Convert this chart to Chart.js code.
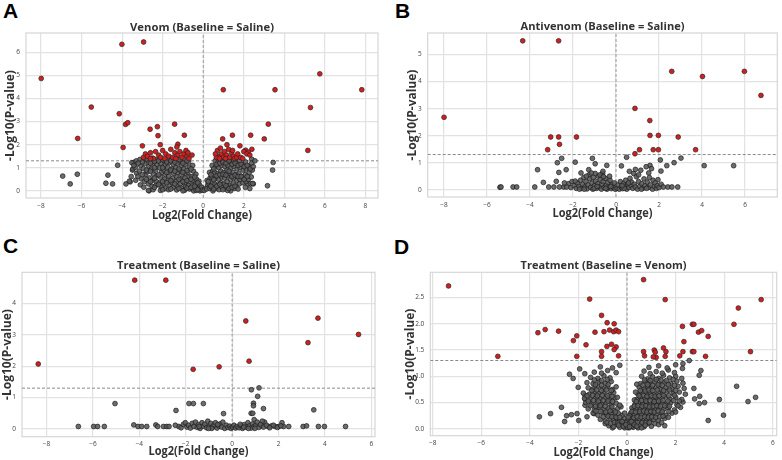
<!DOCTYPE html>
<html>
<head>
<meta charset="utf-8">
<script src="https://cdn.jsdelivr.net/npm/chart.js@4.4.1/dist/chart.umd.min.js"></script>
<style>
  body { margin: 0; background: #fff; width: 782px; height: 460px; position: relative; overflow: hidden; }
  .panel { position: absolute; }
  .tag { position: absolute; font: bold 21px "Liberation Sans", Arial, sans-serif; line-height: 21px; color: #000; }
</style>
</head>
<body>
<div class="tag" style="left:3px;top:0px">A</div>
<div class="tag" style="left:395px;top:0px">B</div>
<div class="tag" style="left:3px;top:235px">C</div>
<div class="tag" style="left:394px;top:236px">D</div>

<div class="panel" style="left:0;top:0;width:391px;height:224px"><canvas id="chartA"></canvas></div>
<div class="panel" style="left:391px;top:0;width:391px;height:224px"><canvas id="chartB"></canvas></div>
<div class="panel" style="left:0;top:230px;width:391px;height:230px"><canvas id="chartC"></canvas></div>
<div class="panel" style="left:391px;top:230px;width:391px;height:230px"><canvas id="chartD"></canvas></div>

<script>
// ---- data: [log2 fold change, -log10 p] ----
const sigCut = 1.301; // -log10(0.05)

// A: Venom (Baseline = Saline)
const aSig = [[-7.99,4.87],[-4.01,6.35],[-2.94,6.45],[-5.52,3.63],[-6.19,2.27],[-4.14,3.34],[-3.83,2.88],[-3.72,2.95],
  [-3.95,1.88],[-2.62,2.67],[-2.26,2.78],[-2.23,2.39],[-1.41,2.89],[-0.93,2.41],[-3.0,1.95],[-2.12,2.0],[-1.25,2.02],
  [0.99,4.38],[3.54,4.38],[5.75,5.07],[7.82,4.38],[5.29,3.61],[3.21,2.89],[3.01,2.25],[2.34,2.41],[1.44,2.41],
  [0.96,2.25],[5.16,1.75],[1.17,2.0],[1.81,1.95],[2.4,1.8],[2.09,1.76],[2.22,1.68],
  [-2.95,1.45],[-2.85,1.6],[-2.75,1.5],[-2.6,1.65],[-2.45,1.4],[-2.35,1.7],[-2.2,1.55],[-2.1,1.45],[-2.0,1.75],
  [-1.85,1.6],[-1.7,1.5],[-1.6,1.8],[-1.5,1.45],[-1.4,1.65],[-1.3,1.9],[-1.25,1.55],[-1.15,1.7],[-1.05,1.45],
  [-0.95,1.6],[-0.85,1.75],[-0.8,1.5],[-0.75,1.65],[-1.9,1.4],[-2.6,1.4],[-0.55,1.55],[-1.35,1.4],[-0.7,1.4],
  [0.7,1.75],[0.75,1.5],[0.85,1.85],[0.9,1.6],[1.0,1.45],[1.05,1.7],[1.15,1.55],[1.25,1.8],[1.3,1.45],[1.4,1.65],
  [1.5,1.5],[1.55,1.4],[1.65,1.45],[1.7,1.6],[0.65,1.45],[1.1,1.4],[1.45,1.75],[1.85,1.45],[2.0,1.7],[2.15,1.6],
  [2.3,1.55],[1.95,1.4],[0.6,1.6],[0.8,1.4]];
const aNs = [[-6.93,0.64],[-6.56,0.30],[-6.21,0.72],[-4.8,0.33],[-4.7,0.68],[-4.47,0.30],[-4.22,1.11],[-3.81,0.30],
  [-3.6,0.39],[-2.67,0.0],[3.17,0.22],[3.42,0.9],[3.45,1.23],[2.3,0.1],[2.19,0.3],[2.47,0.3],[1.35,0.0],
  [-3.44,1.23],[-3.49,0.9],[-3.64,0.42],[-2.7,0.02],[2.34,0.32],[2.44,0.32],[2.39,1.37],
  [-3.52,1.22],[-3.47,0.95],[-3.55,0.62],[-3.3,1.3],[-3.35,1.02],[-3.28,0.76],[-3.33,0.46],
  [-3.12,1.36],[-3.08,1.1],[-3.15,0.86],[-3.05,0.52],[-3.1,0.26],
  [-2.92,1.4],[-2.88,1.18],[-2.95,0.96],[-2.86,0.7],[-2.9,0.41],[-2.93,0.16],
  [-2.72,1.3],[-2.68,1.06],[-2.75,0.82],[-2.66,0.56],[-2.7,0.3],
  [-2.52,1.42],[-2.48,1.2],[-2.55,0.95],[-2.46,0.72],[-2.5,0.46],[-2.53,0.2],[-2.47,0.05],
  [-2.32,1.35],[-2.28,1.12],[-2.35,0.9],[-2.27,0.66],[-2.3,0.4],[-2.33,0.24],
  [-2.12,1.4],[-2.08,1.2],[-2.15,1.0],[-2.06,0.8],[-2.1,0.6],[-2.13,0.36],[-2.07,0.15],[-2.11,0.02],
  [-1.92,1.3],[-1.88,1.1],[-1.95,0.9],[-1.86,0.7],[-1.9,0.5],[-1.93,0.3],[-1.87,0.1],
  [-1.72,1.4],[-1.68,1.22],[-1.75,1.02],[-1.66,0.85],[-1.7,0.64],[-1.73,0.45],[-1.67,0.25],[-1.71,0.05],
  [-1.52,1.35],[-1.48,1.15],[-1.55,0.95],[-1.46,0.76],[-1.5,0.55],[-1.53,0.35],[-1.47,0.15],
  [-1.32,1.4],[-1.28,1.2],[-1.35,1.0],[-1.26,0.8],[-1.3,0.6],[-1.33,0.4],[-1.27,0.2],[-1.31,0.04],
  [-1.12,1.3],[-1.08,1.1],[-1.15,0.9],[-1.06,0.7],[-1.1,0.5],[-1.13,0.3],[-1.07,0.12],
  [-0.92,1.38],[-0.88,1.15],[-0.95,0.95],[-0.86,0.75],[-0.9,0.55],[-0.93,0.35],[-0.87,0.18],[-0.91,0.03],
  [-0.72,1.25],[-0.68,1.02],[-0.75,0.8],[-0.66,0.6],[-0.7,0.4],[-0.73,0.22],[-0.67,0.08],
  [-0.52,1.1],[-0.48,0.85],[-0.55,0.62],[-0.46,0.4],[-0.5,0.25],[-0.53,0.1],[-0.47,0.0],
  [-0.36,0.72],[-0.33,0.5],[-0.38,0.3],[-0.31,0.15],[-0.35,0.02],
  [-0.21,0.42],[-0.18,0.25],[-0.23,0.1],[-0.16,0.0],[-0.08,0.16],[-0.05,0.03],
  [-3.42,1.1],[-3.2,1.2],[-3.22,0.62],[-3.0,1.25],[-3.0,0.7],[-2.8,1.38],[-2.8,0.9],[-2.8,0.5],[-2.6,1.2],
  [-2.6,0.85],[-2.6,0.4],[-2.4,1.28],[-2.4,1.0],[-2.4,0.55],[-2.4,0.15],[-2.2,1.3],[-2.2,0.7],[-2.2,0.28],
  [-2.0,1.35],[-2.0,1.0],[-2.0,0.4],[-2.0,0.05],[-1.8,1.25],[-1.8,0.8],[-1.8,0.35],[-1.6,1.3],[-1.6,0.9],
  [-1.6,0.45],[-1.6,0.08],[-1.4,1.25],[-1.4,0.85],[-1.4,0.3],[-1.2,1.35],[-1.2,0.95],[-1.2,0.5],[-1.2,0.1],
  [-1.0,1.2],[-1.0,0.8],[-1.0,0.4],[-1.0,0.0],[-0.8,1.3],[-0.8,0.88],[-0.8,0.45],[-0.8,0.12],[-0.6,0.95],
  [-0.6,0.5],[-0.6,0.15],[-0.42,0.6],[-0.42,0.2],[-0.27,0.35],[-0.27,0.05],
  [0.08,0.1],[0.05,0.02],[0.19,0.45],[0.22,0.26],[0.17,0.08],
  [0.31,0.8],[0.34,0.56],[0.29,0.3],[0.33,0.1],
  [0.44,1.1],[0.47,0.86],[0.42,0.6],[0.46,0.36],[0.43,0.15],[0.48,0.0],
  [0.59,1.3],[0.62,1.05],[0.57,0.8],[0.61,0.55],[0.58,0.3],[0.63,0.1],
  [0.74,1.25],[0.77,1.0],[0.72,0.75],[0.76,0.5],[0.73,0.25],[0.78,0.05],
  [0.89,1.36],[0.92,1.1],[0.87,0.85],[0.91,0.6],[0.88,0.35],[0.93,0.15],
  [1.04,1.3],[1.07,1.05],[1.02,0.8],[1.06,0.55],[1.03,0.3],[1.08,0.1],
  [1.19,1.36],[1.22,1.1],[1.17,0.9],[1.21,0.65],[1.18,0.4],[1.23,0.2],[1.2,0.02],
  [1.34,1.25],[1.37,1.0],[1.32,0.75],[1.36,0.5],[1.33,0.25],
  [1.49,1.3],[1.52,1.05],[1.47,0.8],[1.51,0.55],[1.48,0.3],[1.53,0.1],
  [1.64,1.2],[1.67,0.95],[1.62,0.7],[1.66,0.45],[1.63,0.2],
  [1.79,1.3],[1.82,1.0],[1.77,0.75],[1.81,0.5],[1.78,0.3],
  [1.94,1.15],[1.97,0.9],[1.92,0.6],[1.96,0.35],
  [2.09,1.25],[2.12,0.95],[2.07,0.7],[2.11,0.4],[2.08,0.15],
  [2.24,1.05],[2.27,0.8],[2.22,0.5],[2.39,1.2],[2.42,0.9],[2.37,0.6],[2.55,1.3],
  [0.25,0.4],[0.38,0.7],[0.38,0.2],[0.52,0.95],[0.52,0.48],[0.52,0.08],[0.67,1.15],[0.67,0.65],[0.67,0.2],
  [0.82,1.2],[0.82,0.7],[0.82,0.28],[0.97,1.25],[0.97,0.72],[0.97,0.05],[1.12,1.2],[1.12,0.68],[1.12,0.22],
  [1.27,1.3],[1.27,0.85],[1.27,0.1],[1.42,1.15],[1.42,0.62],[1.42,0.15],[1.57,1.2],[1.57,0.68],[1.57,0.2],
  [1.72,1.1],[1.72,0.62],[1.72,0.08],[1.87,1.15],[1.87,0.62],[2.02,1.05],[2.02,0.5],[2.17,1.1],[2.17,0.62],
  [2.32,0.95],[2.47,1.05]];

// B: Antivenom (Baseline = Saline)
const bSig = [[-8.0,2.68],[-4.34,5.51],[-2.67,5.51],[-3.04,1.95],[-2.67,1.95],[-2.63,1.68],[-1.84,1.95],[-3.18,1.48],
  [0.88,3.01],[0.88,1.33],[1.09,1.48],[1.57,2.56],[1.58,2.01],[1.73,1.48],[1.97,2.01],[1.97,1.48],[2.59,4.38],
  [2.89,1.95],[3.7,1.48],[4.02,4.19],[5.97,4.38],[6.74,3.49]];
const bNs = [[-5.4,0.09],[-5.35,0.1],[-4.79,0.1],[-4.62,0.1],[-3.78,0.1],[-3.65,0.74],[-3.38,0.27],[-3.13,0.1],
  [-2.73,1.0],[-2.53,1.16],[-2.66,0.64],[-2.78,0.31],[-2.32,0.74],[-1.9,1.02],[-2.89,0.1],[-2.63,0.1],[-2.43,0.1],
  [0.25,0.88],[0.49,1.2],[4.1,0.89],[5.47,0.89],[3.02,1.17],[2.7,1.0],[2.36,0.89],[2.06,1.1],[2.09,0.69],[2.87,0.1],
  [2.41,0.1],[1.95,0.37],[1.58,0.9],[-1.1,1.16],[-0.97,0.96],[-0.97,0.6],[-0.63,0.6],[-0.43,0.9],[-0.61,0.68],
  [-1.27,0.74],[-1.63,0.62],
  [-2.2,0.22],[-2.1,0.08],[-2.05,0.3],[-1.95,0.15],[-1.85,0.05],[-1.8,0.25],[-1.72,0.12],[-1.65,0.35],[-1.6,0.05],
  [-1.55,0.2],[-1.5,0.45],[-1.45,0.1],[-1.4,0.3],[-1.35,0.03],[-1.3,0.18],[-1.25,0.55],[-1.22,0.4],[-1.18,0.08],
  [-1.12,0.25],[-1.08,0.02],[-1.05,0.45],[-1.0,0.15],[-0.95,0.32],[-0.9,0.05],[-0.85,0.22],[-0.82,0.5],[-0.78,0.1],
  [-0.72,0.38],[-0.68,0.02],[-0.65,0.2],[-0.6,0.3],[-0.55,0.08],[-0.5,0.42],[-0.45,0.15],[-0.42,0.02],[-0.38,0.27],
  [-0.32,0.1],[-0.28,0.35],[-0.22,0.04],[-0.18,0.18],[-0.12,0.08],[-0.08,0.25],[-0.04,0.02],[-1.7,0.02],[-1.9,0.32],
  [-2.3,0.1],[-2.4,0.25],[-1.48,0.02],[-1.15,0.62],[-0.75,0.55],[-1.38,0.5],[-0.58,0.48],[-0.3,0.5],[-1.02,0.05],
  [-0.88,0.12],[-0.48,0.05],[-0.25,0.12],
  [0.05,0.05],[0.1,0.18],[0.15,0.02],[0.2,0.3],[0.25,0.1],[0.3,0.04],[0.35,0.22],[0.4,0.12],[0.45,0.35],[0.5,0.02],
  [0.55,0.2],[0.6,0.08],[0.65,0.42],[0.7,0.15],[0.72,0.28],[0.78,0.05],[0.82,0.6],[0.85,0.2],[0.9,0.1],[0.95,0.48],
  [1.0,0.02],[1.05,0.3],[1.1,0.12],[1.15,0.72],[1.2,0.22],[1.25,0.05],[1.3,0.4],[1.35,0.15],[1.4,0.85],[1.45,0.28],
  [1.5,0.08],[1.52,0.62],[1.55,0.45],[1.6,0.18],[1.65,0.78],[1.7,0.02],[1.72,0.35],[1.78,0.12],[1.82,0.25],[1.88,0.05],
  [1.92,0.15],[2.0,0.08],[2.1,0.2],[2.2,0.1],[2.6,0.1],[0.62,0.68],[0.9,0.75],[1.05,0.55],[0.38,0.05],[0.58,0.25],
  [1.18,0.02],[1.42,0.05],[0.28,0.15]];

// C: Treatment (Baseline = Saline)
const cSig = [[-8.36,2.07],[-4.2,4.74],[-2.86,4.74],[-1.68,1.9],[-0.56,1.98],[0.59,3.44],[0.73,2.16],[3.27,2.75],
  [3.7,3.53],[5.45,3.01]];
const cNs = [[-6.63,0.08],[-5.97,0.08],[-5.8,0.08],[-5.51,0.08],[-5.05,0.81],[-4.24,0.13],[-4.06,0.08],[-3.9,0.08],
  [-3.68,0.08],[-3.29,0.13],[-3.21,0.08],[-2.96,0.08],[-2.82,0.08],[-2.72,0.08],[-2.42,0.59],[-1.86,0.81],[-1.67,0.81],
  [-1.24,0.81],[-0.37,0.49],[0.83,1.25],[1.16,1.31],[1.1,1.04],[0.92,0.82],[0.92,0.74],[1.35,0.65],[0.82,0.5],
  [0.89,0.5],[3.52,0.61],[0.95,0.3],[2.01,0.08],[2.15,0.2],[2.22,0.08],[2.44,0.08],[3.06,0.08],[3.21,0.1],[3.72,0.08],
  [3.98,0.08],[4.89,0.08],[1.85,0.08],[1.7,0.1],[1.55,0.08],[1.4,0.22],[1.25,0.1],[1.3,0.25],
  [-2.3,0.08],[-2.2,0.04],[-2.1,0.15],[-2.02,0.2],[-1.95,0.06],[-1.88,0.12],[-1.8,0.03],[-1.72,0.18],[-1.65,0.08],
  [-1.58,0.22],[-1.5,0.05],[-1.45,0.14],[-1.38,0.02],[-1.3,0.2],[-1.25,0.09],[-1.18,0.15],[-1.1,0.04],[-1.05,0.25],
  [-0.98,0.1],[-0.92,0.18],[-0.85,0.05],[-0.78,0.12],[-0.72,0.2],[-0.65,0.03],[-0.58,0.1],[-0.52,0.16],[-0.45,0.06],
  [-0.4,0.22],[-0.32,0.02],[-0.25,0.12],[-0.18,0.05],[-0.1,0.09],[-0.05,0.02],[0.02,0.06],[0.08,0.12],[0.15,0.03],
  [0.22,0.08],[0.3,0.04],[0.38,0.1],[0.45,0.02],[0.52,0.14],[0.6,0.06],[0.68,0.2],[0.75,0.1],[0.82,0.03],[0.88,0.16],
  [0.95,0.08],[1.02,0.12],[1.08,0.22],[1.15,0.05],[1.22,0.14],[1.35,0.06],[1.48,0.12],[1.62,0.04],[1.78,0.12],
  [1.95,0.05],[2.1,0.1],[-1.42,0.08],[-0.88,0.02],[-0.62,0.14],[0.35,0.15],[0.7,0.02],[-2.45,0.12],[-1.02,0.02],
  [0.5,0.06],[0.98,0.02]];

// D: Treatment (Baseline = Venom)
const dSig = [[-7.35,2.72],[-5.32,1.38],[-3.67,1.83],[-3.37,1.89],[-2.82,1.86],[-2.21,1.68],[-2.07,1.77],[-2.07,1.38],
  [-1.69,1.6],[-1.54,2.47],[-1.05,2.16],[-1.05,1.47],[-1.05,1.38],[-1.32,1.84],[-0.83,1.57],[-0.82,2.02],[-0.72,1.88],
  [-0.95,1.85],[-0.64,1.61],[-0.53,2.0],[-0.55,1.85],[-0.45,1.56],[-0.45,1.88],[-0.35,1.85],[-0.35,1.39],[-0.53,1.51],
  [0.68,2.84],[1.57,2.46],[0.68,1.47],[0.72,1.39],[1.12,1.5],[1.16,1.46],[1.2,1.36],[1.08,1.37],[1.5,1.54],[1.6,1.47],
  [1.57,1.38],[2.17,1.39],[2.3,1.47],[2.28,1.95],[2.34,1.66],[2.69,1.99],[2.75,1.99],[2.69,1.47],[2.75,1.47],
  [2.94,1.84],[3.07,1.87],[3.34,1.76],[3.23,1.38],[4.4,1.99],[4.58,2.3],[5.52,2.46],[5.08,1.47]];
const dNs = [[4.51,0.81],[4.98,0.52],[5.29,0.6],[3.97,0.26],[3.8,0.56],[3.34,0.16],[3.19,0.5],[2.97,0.48],[2.78,0.57],
  [2.99,0.62],[2.75,0.77],[2.97,1.02],[3.04,1.11],[2.56,1.3],[2.3,1.24],[2.28,1.15],
  [-3.61,0.23],[-3.15,0.29],[-2.7,0.41],[-2.57,0.14],[-2.49,0.25],[-2.29,0.27],[-2.06,0.29],[-1.99,0.16],[-2.37,1.04],
  [-2.22,0.96],[-2.01,0.79],[-1.95,1.14],[-1.74,1.05],[-1.73,0.64],[-1.73,0.57],[-1.73,0.45],[-1.65,0.23],[-1.36,0.29],
  [-1.24,0.41],
  [-0.75,0.06],[-0.6,0.02],[-0.45,0.08],[-0.3,0.03],[-0.2,0.09],[-0.1,0.02],[0.0,0.06],[0.08,0.02],[0.15,0.09],
  [0.25,0.03],[0.35,0.07],[0.45,0.02],[0.55,0.08],[0.7,0.04],[0.85,0.1],[1.0,0.05],[-0.15,0.05],[0.05,0.1],[0.2,0.05],
  [1.55,0.06],[-0.9,0.1],
  [-1.1,0.18],[-0.9,0.15],[-0.7,0.2],[-0.55,0.16],[-0.4,0.19],[-0.25,0.15],[-0.12,0.2],[0.1,0.16],[0.22,0.2],
  [0.35,0.15],[0.5,0.19],[0.65,0.16],[0.8,0.2],[0.95,0.15],[1.1,0.18],[1.3,0.16],[1.55,0.2],
  [-1.4,0.3],[-1.2,0.26],[-1.0,0.31],[-0.85,0.27],[-0.65,0.3],[-0.5,0.25],[-0.35,0.29],[-0.2,0.26],[0.15,0.3],
  [0.3,0.26],[0.45,0.31],[0.6,0.27],[0.75,0.3],[0.9,0.25],[1.05,0.29],[1.2,0.27],[1.4,0.31],[1.6,0.26],[1.85,0.3],
  [-1.6,0.38],[-1.35,0.36],[-1.15,0.41],[-0.95,0.37],[-0.75,0.4],[-0.55,0.35],[-0.38,0.39],[0.25,0.36],[0.4,0.41],
  [0.55,0.37],[0.7,0.4],[0.85,0.35],[1.0,0.39],[1.15,0.36],[1.3,0.42],[1.5,0.37],[1.7,0.4],[1.95,0.36],[2.2,0.41],
  [-1.7,0.5],[-1.45,0.46],[-1.25,0.51],[-1.05,0.47],[-0.85,0.5],[-0.65,0.45],[-0.45,0.49],[0.32,0.46],[0.5,0.51],
  [0.65,0.47],[0.8,0.5],[0.95,0.45],[1.1,0.49],[1.25,0.46],[1.4,0.52],[1.6,0.47],[1.8,0.5],[2.05,0.46],[2.3,0.51],
  [-1.75,0.58],[-1.5,0.56],[-1.3,0.61],[-1.1,0.57],[-0.9,0.6],[-0.7,0.55],[-0.5,0.59],[0.4,0.56],[0.55,0.61],
  [0.72,0.57],[0.88,0.6],[1.05,0.55],[1.2,0.59],[1.35,0.56],[1.55,0.62],[1.75,0.57],[2.0,0.6],[2.25,0.56],
  [-1.8,0.68],[-1.55,0.66],[-1.35,0.71],[-1.15,0.67],[-0.95,0.7],[-0.72,0.65],[-0.55,0.69],[0.45,0.66],[0.62,0.71],
  [0.78,0.67],[0.95,0.7],[1.1,0.65],[1.28,0.69],[1.45,0.66],[1.65,0.72],[1.9,0.67],[2.15,0.7],[2.4,0.66],
  [-1.6,0.78],[-1.4,0.76],[-1.2,0.81],[-1.0,0.77],[-0.8,0.8],[-0.6,0.75],[0.5,0.79],[0.7,0.76],[0.85,0.81],[1.0,0.77],
  [1.2,0.8],[1.4,0.75],[1.6,0.79],[1.85,0.76],[2.1,0.81],[2.35,0.77],
  [-1.65,0.88],[-1.4,0.86],[-1.15,0.91],[-0.9,0.87],[-0.65,0.9],[0.55,0.86],[0.75,0.91],[0.95,0.87],[1.15,0.9],
  [1.35,0.85],[1.55,0.89],[1.8,0.86],[2.05,0.91],[2.3,0.87],
  [-1.5,0.98],[-1.2,0.96],[-0.95,1.01],[-0.7,0.97],[0.6,1.0],[0.85,0.95],[1.05,0.99],[1.3,0.96],[1.5,1.02],[1.75,0.97],
  [2.0,1.0],[2.25,0.96],
  [-1.35,1.08],[-1.05,1.06],[-0.8,1.11],[-0.45,1.07],[0.7,1.1],[0.95,1.05],[1.2,1.09],[1.45,1.06],[1.7,1.12],[1.95,1.07],
  [-1.1,1.18],[-0.6,1.16],[-0.3,1.21],[0.9,1.17],[1.3,1.2],[1.65,1.16],[2.0,1.22],
  [-0.3,0.15],[0.1,0.25],[0.0,0.15],[-0.1,0.3],[0.2,0.4],[-0.25,0.42],[0.3,0.55],[-0.4,0.6],[0.35,0.7],[-0.45,0.8],[0.4,0.85],
  [-0.82,0.12],[-0.68,0.1],[-0.52,0.12],[-0.38,0.11],[-0.05,0.12],[0.12,0.11],[0.28,0.12],[0.42,0.12],[0.62,0.12],
  [0.78,0.12],[0.92,0.12],[1.15,0.1],[1.3,0.08],[1.42,0.12],
  [-0.98,0.23],[-0.78,0.24],[-0.62,0.23],[-0.45,0.22],[-0.3,0.22],[0.05,0.22],[0.28,0.21],[0.42,0.23],[0.58,0.22],
  [0.72,0.23],[0.88,0.22],[1.02,0.23],[1.18,0.22],[1.35,0.23],[1.48,0.24],[1.7,0.22],
  [-1.28,0.34],[-1.08,0.33],[-0.88,0.32],[-0.7,0.34],[-0.48,0.32],[0.2,0.33],[0.35,0.32],[0.52,0.33],[0.68,0.34],
  [0.82,0.32],[0.98,0.33],[1.12,0.32],[1.28,0.34],[1.45,0.33],[1.72,0.33],[2.0,0.32],
  [-1.5,0.44],[-1.3,0.43],[-1.1,0.44],[-0.9,0.43],[-0.62,0.42],[-0.3,0.45],[0.3,0.43],[0.45,0.44],[0.62,0.43],
  [0.78,0.44],[0.92,0.42],[1.08,0.43],[1.22,0.44],[1.38,0.43],[1.55,0.44],[1.75,0.43],[2.1,0.44],
  [-1.6,0.53],[-1.38,0.54],[-1.18,0.53],[-0.98,0.54],[-0.78,0.53],[-0.6,0.52],[0.38,0.52],[0.6,0.54],[0.78,0.53],
  [0.95,0.54],[1.12,0.52],[1.3,0.53],[1.48,0.54],[1.68,0.53],[1.92,0.54],[2.15,0.53],
  [-1.65,0.63],[-1.42,0.64],[-1.22,0.63],[-1.02,0.64],[-0.8,0.63],[-0.62,0.62],[0.5,0.63],[0.68,0.64],[0.82,0.62],
  [1.0,0.63],[1.15,0.62],[1.32,0.63],[1.5,0.64],[1.72,0.63],[1.95,0.64],
  [-1.45,0.73],[-1.25,0.74],[-1.05,0.73],[-0.85,0.74],[-0.65,0.73],[0.55,0.73],[0.75,0.72],[0.9,0.74],[1.05,0.73],
  [1.25,0.74],[1.5,0.73],[1.75,0.74],[2.0,0.73],
  [-1.3,0.84],[-1.05,0.83],[-0.78,0.84],[0.65,0.83],[0.85,0.84],[1.05,0.83],[1.28,0.84],[1.45,0.83],[1.7,0.84],[1.95,0.83],
  [-1.35,0.93],[-1.05,0.92],[-0.82,0.94],[0.72,0.93],[0.95,0.92],[1.2,0.94],[1.4,0.93],[1.62,0.92],[1.9,0.94],
  [0.02,0.03],[-0.05,0.08],[0.1,0.04],[0.18,0.14],[-0.2,0.14],[0.3,0.08],[0.4,0.05],[-0.35,0.07],[0.6,0.02],
  [0.75,0.07],[-0.55,0.04]];

// axis extents and tick labels
const xRangeA = [-8.74, 8.62], yRangeA = [-0.31, 6.84];
const xRangeB = [-8.76, 7.5],  yRangeB = [-0.27, 5.8];
const xRangeC = [-9.06, 6.16], yRangeC = [-0.245, 4.99];
const xRangeD = [-8.1, 6.16],  yRangeD = [-0.13, 2.98];
const xTicksA = [-8, -6, -4, -2, 0, 2, 4, 6, 8];
const xTicksBCD = [-8, -6, -4, -2, 0, 2, 4, 6];
const yTicksA = [0, 1, 2, 3, 4, 5, 6];
const yTicksB = [0, 1, 2, 3, 4, 5];
const yTicksC = [0, 1, 2, 3, 4];
const yTicksD = [0, 0.5, 1, 1.5, 2, 2.5];

const titles = ['Venom (Baseline = Saline)', 'Antivenom (Baseline = Saline)',
                'Treatment (Baseline = Saline)', 'Treatment (Baseline = Venom)'];
const xLabel = 'Log2(Fold Change)';
const yLabel = '-Log10(P-value)';

// frame + squeezed titles (the source figure is horizontally compressed)
const panelText = {
  id: 'panelText',
  beforeDatasetsDraw(chart) {
    const { ctx, chartArea: a } = chart;
    ctx.save();
    ctx.strokeStyle = '#d6d6d6';
    ctx.lineWidth = 1.2;
    ctx.strokeRect(a.left, a.top, a.right - a.left, a.bottom - a.top);
    ctx.restore();
  },
  afterDraw(chart, args, o) {
    const { ctx, chartArea: a } = chart;
    const cx = (a.left + a.right) / 2;
    const put = (text, font, y, w) => {
      ctx.save();
      ctx.font = font;
      ctx.fillStyle = '#333';
      ctx.textAlign = 'center';
      ctx.textBaseline = 'middle';
      const sx = w / ctx.measureText(text).width;
      ctx.translate(cx, y);
      ctx.scale(sx, 1);
      ctx.fillText(text, 0, 0);
      ctx.restore();
    };
    put(o.title, 'bold 11px "Open Sans"', o.titleY, o.titleW);
    put(xLabel, 'bold 12.5px "Open Sans"', o.xLabelY, 100);
  }
};

const toXY = pts => pts.map(p => ({ x: p[0], y: p[1] }));
const minus = v => (v < 0 ? '\u2212' : '') + Math.abs(v);

function makePanel(id, title, sig, ns, xr, yr, xt, yt, g) {
  const tickFont = { family: 'Open Sans', size: 6.5 };
  new Chart(document.getElementById(id), {
    type: 'scatter',
    data: {
      datasets: [
        { type: 'line', data: [{ x: xr[0], y: sigCut }, { x: xr[1], y: sigCut }], borderColor: '#8a8a8a',
          borderWidth: 1, borderDash: [3, 2], pointRadius: 0, order: 3 },
        { type: 'line', data: [{ x: 0, y: yr[0] }, { x: 0, y: yr[1] }], borderColor: '#9a9a9a',
          borderWidth: 1, borderDash: [3, 2], pointRadius: 0, order: 3 },
        { data: toXY(ns), backgroundColor: 'rgba(92,92,92,0.9)', borderColor: '#1c1c1c',
          borderWidth: 0.7, pointRadius: 2.4, order: 2 },
        { data: toXY(sig), backgroundColor: '#d41e1e', borderColor: '#262626',
          borderWidth: 0.7, pointRadius: 2.4, order: 1 }
      ]
    },
    options: {
      responsive: true,
      maintainAspectRatio: false,
      animation: false,
      layout: { padding: { top: g.top, right: g.right, left: 0, bottom: 0 } },
      plugins: {
        legend: { display: false },
        tooltip: { enabled: false },
        panelText: { title: title, titleY: g.titleY, titleW: g.titleW, xLabelY: g.xLabelY }
      },
      scales: {
        x: {
          type: 'linear', min: xr[0], max: xr[1],
          afterBuildTicks: s => { s.ticks = xt.map(v => ({ value: v })); },
          afterFit: s => { s.height = g.xh; },
          grid: { color: '#e2e2e2', lineWidth: 1.2, drawTicks: false },
          border: { display: false },
          ticks: { font: tickFont, color: '#444', padding: 4, maxRotation: 0, callback: minus }
        },
        y: {
          type: 'linear', min: yr[0], max: yr[1],
          afterBuildTicks: s => { s.ticks = yt.map(v => ({ value: v })); },
          afterFit: s => { s.width = g.yw; },
          grid: { color: '#e2e2e2', lineWidth: 1.2, drawTicks: false },
          border: { display: false },
          ticks: { font: tickFont, color: '#444', padding: 6,
                   callback: v => g.dec ? v.toFixed(1) : minus(v) },
          title: { display: true, text: yLabel, color: '#333',
                   font: { family: 'Open Sans', size: 12, weight: 'bold' },
                   padding: { top: g.yTitleX - 7.2, bottom: 0 } }
        }
      }
    },
    plugins: [panelText]
  });
}

makePanel('chartA', titles[0], aSig, aNs, xRangeA, yRangeA, xTicksA, yTicksA,
  { top: 33, right: 13, yw: 26, xh: 26, titleY: 28, titleW: 144, xLabelY: 215, yTitleX: 11 });
makePanel('chartB', titles[1], bSig, bNs, xRangeB, yRangeB, xTicksBCD, yTicksB,
  { top: 33, right: 1, yw: 36.7, xh: 27, titleY: 27.3, titleW: 164, xLabelY: 213.5, yTitleX: 22 });
makePanel('chartC', titles[2], cSig, cNs, xRangeC, yRangeC, xTicksBCD, yTicksC,
  { top: 42.3, right: 16, yw: 22, xh: 23.3, titleY: 35.7, titleW: 163, xLabelY: 221.7, yTitleX: 8 });
makePanel('chartD', titles[3], dSig, dNs, xRangeD, yRangeD, xTicksBCD, yTicksD,
  { top: 42.3, right: 5.3, yw: 39.3, xh: 24.3, titleY: 35.7, titleW: 166, xLabelY: 222, yTitleX: 20, dec: true });
</script>
</body>
</html>
